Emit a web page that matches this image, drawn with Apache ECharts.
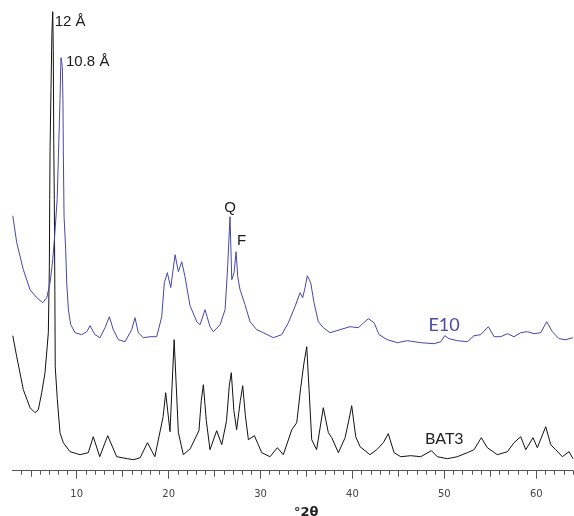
<!DOCTYPE html>
<html>
<head>
<meta charset="utf-8">
<script src="https://cdn.jsdelivr.net/npm/echarts@6/dist/echarts.min.js"></script>
<style>
  html, body { margin: 0; padding: 0; background: #fff; }
  #chart { width: 574px; height: 516px; }
</style>
</head>
<body>
<div id="chart"></div>
<script>
// BAT3 trace (°2θ, counts in arbitrary units, offset already applied)
var bat3Theta = [3.04, 3.47, 4.19, 4.92, 5.46, 5.82, 6.19, 6.55, 6.91, 7.02, 7.06, 7.1, 7.2, 7.3, 7.39, 7.45, 7.5, 7.56, 7.62, 7.66, 7.89, 8.18, 8.54, 9.27, 10.36, 11.26, 11.8, 12.5, 13.37, 14.35, 15.5, 16.2, 16.9, 17.7, 18.5, 19.4, 19.68, 20.15, 20.6, 21.06, 21.6, 22.35, 23.3, 23.55, 23.78, 24.1, 24.5, 25.23, 25.78, 26.3, 26.6, 26.82, 27.1, 27.4, 27.8, 28.06, 28.35, 28.68, 29.33, 30.13, 31.03, 31.83, 32.48, 33.4, 33.94, 34.37, 34.73, 35.03, 35.28, 35.57, 36.1, 36.83, 37.38, 37.75, 38.47, 39.2, 39.6, 39.92, 40.36, 40.83, 41.9, 42.65, 43.36, 43.9, 44.53, 45.26, 46.35, 47.43, 48.59, 49.24, 50.33, 51.41, 52.5, 53.23, 54.02, 54.68, 55.77, 56.86, 57.58, 58.31, 58.86, 59.65, 60.12, 61.03, 61.58, 62.12, 62.84, 63.57, 64.0];
var bat3Int = [135, 114, 81, 63, 58, 61, 78, 98, 138, 204, 271, 324, 381, 438, 459, 420, 328, 271, 180, 104, 71, 38, 28, 19, 16, 18, 34, 14, 35, 14, 12, 11, 13, 28, 14, 54, 78, 39, 131, 38, 16, 22, 40, 70, 86, 50, 21, 40, 26, 50, 85, 98, 60, 41, 70, 85, 55, 31, 35, 18, 14, 23, 16, 41, 48, 83, 108, 124, 81, 31, 21, 63, 38, 33, 18, 33, 50, 65, 34, 24, 16, 21, 28, 37, 18, 14, 15, 14, 20, 14, 12, 14, 18, 21, 33, 23, 16, 19, 28, 34, 21, 33, 23, 44, 26, 21, 14, 19, 12];

// E10 trace
var e10Theta = [3.04, 3.47, 4.19, 4.92, 5.65, 6.3, 6.74, 7.1, 7.39, 7.6, 7.87, 8.05, 8.18, 8.26, 8.29, 8.43, 8.5, 8.54, 8.62, 8.8, 8.91, 9.09, 9.35, 9.82, 10.54, 11.09, 11.45, 11.99, 12.54, 13.08, 13.55, 13.98, 14.53, 15.26, 15.98, 16.34, 16.7, 17.25, 17.98, 18.7, 19.25, 19.53, 19.86, 20.23, 20.7, 21.06, 21.43, 21.78, 22.33, 23.06, 23.42, 23.96, 24.5, 24.87, 25.6, 26.14, 26.39, 26.68, 26.87, 27.12, 27.34, 27.52, 27.77, 28.31, 28.86, 29.59, 30.3, 31.39, 32.3, 33.03, 33.75, 34.3, 34.59, 34.84, 35.09, 35.46, 35.82, 36.29, 36.83, 37.56, 38.65, 39.74, 40.64, 41.73, 42.35, 42.9, 43.8, 44.89, 45.98, 47.43, 48.88, 49.61, 50.05, 50.51, 51.41, 52.5, 53.23, 53.96, 54.79, 55.41, 56.14, 56.86, 57.58, 58.31, 59.03, 59.76, 60.49, 61.14, 61.75, 62.48, 63.21, 64.0];
var e10Int = [255, 228, 201, 181, 173, 168, 173, 188, 211, 235, 271, 328, 371, 404, 413, 404, 371, 320, 254, 221, 188, 161, 146, 138, 136, 139, 145, 136, 133, 143, 154, 141, 131, 129, 141, 153, 138, 133, 134, 134, 154, 188, 198, 183, 216, 199, 209, 194, 165, 149, 146, 161, 144, 139, 146, 161, 198, 254, 191, 198, 219, 194, 181, 166, 149, 141, 138, 133, 136, 148, 164, 178, 173, 183, 195, 188, 168, 149, 143, 138, 141, 144, 143, 152, 148, 136, 131, 128, 130, 128, 127, 129, 135, 132, 130, 129, 135, 136, 144, 134, 134, 137, 134, 138, 139, 137, 138, 149, 139, 132, 131, 133];

// axis ticks
var majorTicks = [10, 20, 30, 40, 50, 60];
var midTicks = [5, 15, 25, 35, 45, 55];
var minorTicks = [];
for (var t = 4; t <= 64; t++) minorTicks.push(t);

// annotations: [theta, intensity] anchors
var peak12 = [7.39, 459];
var peak108 = [8.29, 413];
var peakQ = [26.68, 254];
var peakF = [27.34, 219];
var labelE10 = [49.97, 146];
var labelBAT3 = [50.0, 32];

function pairs(xs, ys) {
    return xs.map(function (x, i) { return [x, ys[i]] })
}

var annoFont = { fontFamily: 'Liberation Sans', fontSize: 15, color: '#1a1a1a' };

var chart = echarts.init(document.getElementById('chart'));

var option = {
    animation: false,
    grid: { left: 12.4, right: 1, top: 0, bottom: 45.3, containLabel: false, outerBoundsMode: 'none' },
    xAxis: [
        {
            type: 'value', min: 3, max: 64,
            name: '°2θ', nameLocation: 'middle', nameGap: 35,
            nameTextStyle: { fontFamily: 'DejaVu Sans', fontSize: 13, fontWeight: 'bold', color: '#222', padding: [0, 0, 0, 27] },
            axisLine: { lineStyle: { color: '#555', width: 1 } },
            axisTick: { customValues: majorTicks, length: 8, lineStyle: { color: '#555' } },
            axisLabel: { customValues: majorTicks, margin: 19, fontFamily: 'DejaVu Sans', fontSize: 10, color: '#444' },
            splitLine: { show: false }
        },
        {
            type: 'value', min: 3, max: 64, position: 'bottom',
            axisLine: { show: false },
            axisTick: { customValues: midTicks, length: 6, lineStyle: { color: '#555' } },
            axisLabel: { show: false },
            splitLine: { show: false }
        },
        {
            type: 'value', min: 3, max: 64, position: 'bottom',
            axisLine: { show: false },
            axisTick: { customValues: minorTicks, length: 4, lineStyle: { color: '#555' } },
            axisLabel: { show: false },
            splitLine: { show: false }
        }
    ],
    yAxis: { type: 'value', min: 0, max: 470.7, show: false, splitLine: { show: false } },
    series: [
        {
            name: 'BAT3', type: 'line', data: pairs(bat3Theta, bat3Int),
            showSymbol: false, lineStyle: { color: '#111', width: 1 },
            markPoint: {
                symbol: 'circle', symbolSize: 0,
                data: [
                    { coord: peak12, label: Object.assign({ show: true, position: 'right', distance: 2, offset: [0, 10], formatter: '12 Å' }, annoFont) },
                    { coord: labelBAT3, label: { show: true, position: 'inside', formatter: 'BAT3', fontFamily: 'Lato', fontSize: 16, color: '#222' } }
                ]
            }
        },
        {
            name: 'E10', type: 'line', data: pairs(e10Theta, e10Int),
            showSymbol: false, lineStyle: { color: '#4646aa', width: 1 },
            markPoint: {
                symbol: 'circle', symbolSize: 0,
                data: [
                    { coord: peak108, label: Object.assign({ show: true, position: 'right', distance: 5, offset: [0, 4], formatter: '10.8 Å' }, annoFont) },
                    { coord: peakQ, label: Object.assign({ show: true, position: 'top', distance: 1, offset: [0, 0], formatter: 'Q' }, annoFont) },
                    { coord: peakF, label: Object.assign({ show: true, position: 'right', distance: 1, offset: [0, -11], formatter: 'F' }, annoFont) },
                    { coord: labelE10, label: { show: true, position: 'inside', formatter: 'E10', fontFamily: 'Lato', fontSize: 18, color: '#4a4aaa' } }
                ]
            }
        }
    ]
};

chart.setOption(option);
window.addEventListener('resize', function () { chart.resize() });
</script>
</body>
</html>
